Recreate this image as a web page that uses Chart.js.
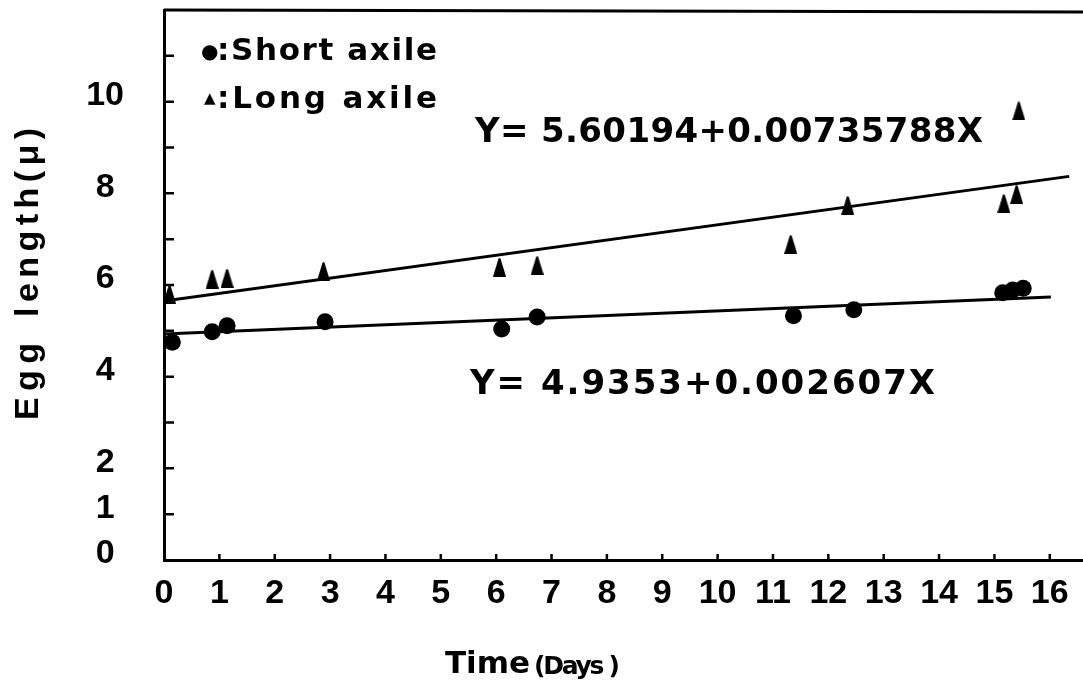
<!DOCTYPE html>
<html><head><meta charset="utf-8">
<script src="https://cdn.jsdelivr.net/npm/chart.js@4.4.1/dist/chart.umd.min.js"></script>
<style>html,body{margin:0;padding:0;background:#fff;} canvas{display:block;}</style>
</head><body>
<canvas id="c" width="1083" height="690"></canvas>
<script>
// ---- data ----
const shortX = [0.15, 0.87, 1.14, 2.91, 6.10, 6.74, 11.37, 12.46, 15.15, 15.33, 15.52];
const shortY = [4.75, 4.98, 5.11, 5.20, 5.04, 5.30, 5.33, 5.46, 5.83, 5.89, 5.93];
const longX  = [0.10, 0.87, 1.14, 2.88, 6.06, 6.74, 11.32, 12.35, 15.17, 15.40, 15.44];
const longY  = [5.80, 6.13, 6.15, 6.30, 6.39, 6.43, 6.89, 7.74, 7.78, 7.98, 9.80];
const upperLineX = [0, 16.35];
const upperLineY = [5.65, 8.37];
const lowerLineX = [0, 16.02];
const lowerLineY = [4.93, 5.74];
const yTickLabels = [0, 1, 2, 4, 6, 8, 10];
const yTickMarks = [1,2,3,4,5,6,7,8,9,10,11];
const xTickMarks = [1,2,3,4,5,6,7,8,9,10,11,12,13,14,15,16];
const legendShort = ':Short axile';
const legendLong = ':Long axile';
const eqUpper = 'Y= 5.60194+0.00735788X';
const eqLower = 'Y= 4.9353+0.002607X';
const xTitleA = 'Time', xTitleB = '(Days )';
const yTitleA = 'Egg', yTitleB = 'length(μ)';

const FONT = "'Liberation Sans', Arial, 'DejaVu Sans', sans-serif";
const WIDE = "'DejaVu Sans', 'Liberation Sans', sans-serif";
const zip = (xs, ys) => xs.map((x, i) => ({x, y: ys[i]}));

// triangle marker
const tri = document.createElement('canvas');
tri.width = 13; tri.height = 19;
(() => { const t = tri.getContext('2d'); t.fillStyle = '#000'; t.beginPath();
  t.moveTo(0, 19); t.lineTo(5.5, 1); t.quadraticCurveTo(6.5, -0.5, 7.5, 1); t.lineTo(13, 19); t.closePath(); t.fill(); })();

function spacedText(ctx, text, x, y, font, target, align) {
  ctx.save();
  ctx.font = font;
  ctx.textBaseline = 'middle';
  ctx.textAlign = 'left';
  ctx.fillStyle = '#000';
  const w = ctx.measureText(text).width;
  let L = 0;
  if (target && 'letterSpacing' in ctx) { L = (target - w) / Math.max(1, text.length - 1); ctx.letterSpacing = L + 'px'; }
  const total = w + L * (text.length - 1);
  const x0 = align === 'center' ? x - total / 2 : x;
  ctx.fillText(text, x0, y);
  ctx.restore();
}

const decor = {
  id: 'decor',
  afterDraw(chart) {
    const ctx = chart.ctx, xs = chart.scales.x, ys = chart.scales.y, a = chart.chartArea;
    ctx.save();
    ctx.strokeStyle = '#000'; ctx.lineWidth = 2.5; ctx.beginPath();
    yTickMarks.forEach(v => { const p = ys.getPixelForValue(v); ctx.moveTo(a.left, p); ctx.lineTo(a.left + 10, p); });
    xTickMarks.forEach(v => { const p = xs.getPixelForValue(v); ctx.moveTo(p, a.bottom); ctx.lineTo(p, a.bottom - 6); });
    ctx.stroke();
    ctx.lineWidth = 3; ctx.beginPath(); ctx.moveTo(a.left, a.top); ctx.lineTo(a.right, a.top + 2); ctx.stroke();
    ctx.restore();

    // legend
    ctx.save(); ctx.fillStyle = '#000'; ctx.textBaseline = 'middle'; ctx.textAlign = 'left';
    ctx.font = `bold 20px 'DejaVu Sans', sans-serif`; ctx.fillText('●', 201, 53);
    ctx.font = `bold 15px 'DejaVu Sans', sans-serif`; ctx.fillText('▲', 204, 99);
    ctx.restore();
    spacedText(ctx, legendShort, 217, 52, `bold 31px ${WIDE}`, 220, 'left');
    spacedText(ctx, legendLong, 217, 100, `bold 31px ${WIDE}`, 220, 'left');

    // equations
    spacedText(ctx, eqUpper, 475, 133, `bold 34px ${WIDE}`, 508, 'left');
    spacedText(ctx, eqLower, 470, 385, `bold 34px ${WIDE}`, 465, 'left');

    // axis titles
    spacedText(ctx, xTitleA, 445, 665, `bold 31px ${WIDE}`, 85, 'left');
    spacedText(ctx, xTitleB, 534, 667, `bold 25px ${WIDE}`, 86, 'left');
    ctx.save(); ctx.translate(29, 0); ctx.rotate(-Math.PI / 2);
    spacedText(ctx, yTitleA, -420, 0, `bold 34px ${FONT}`, 77, 'left');
    spacedText(ctx, yTitleB, -317, 0, `bold 34px ${FONT}`, 189, 'left');
    ctx.restore();
  }
};

new Chart(document.getElementById('c'), {
  type: 'scatter',
  data: {
    datasets: [
      { label: 'upper fit', type: 'line', data: zip(upperLineX, upperLineY), borderColor: '#000', borderWidth: 3, pointRadius: 0, fill: false },
      { label: 'lower fit', type: 'line', data: zip(lowerLineX, lowerLineY), borderColor: '#000', borderWidth: 3, pointRadius: 0, fill: false },
      { label: 'Short axile', data: zip(shortX, shortY), pointStyle: 'circle', pointRadius: 8.5, backgroundColor: '#000', borderColor: '#000', borderWidth: 0, clip: false },
      { label: 'Long axile', data: zip(longX, longY), pointStyle: tri, pointRadius: 9, backgroundColor: '#000', borderColor: '#000', clip: false }
    ]
  },
  options: {
    responsive: false,
    animation: false,
    devicePixelRatio: 1,
    layout: { autoPadding: false, padding: { top: 10, right: 0, left: 0, bottom: 0 } },
    plugins: { legend: { display: false }, tooltip: { enabled: false } },
    scales: {
      x: {
        type: 'linear', position: 'bottom', min: 0, max: 16.6,
        grid: { display: false },
        border: { display: true, color: '#000', width: 3 },
        ticks: {
          stepSize: 1, includeBounds: false, autoSkip: false, maxRotation: 0, minRotation: 0,
          color: '#000', font: { family: FONT, size: 34, weight: 'bold' }, padding: 5,
          labelOffset: c => (c.tick && c.tick.value === 0 ? 9 : 0),
          callback: v => String(v)
        },
        afterFit: s => { s.height = 130; s.paddingLeft = 0; s.paddingRight = 0; }
      },
      y: {
        type: 'linear', min: 0, max: 12,
        grid: { display: false },
        border: { display: true, color: '#000', width: 3 },
        ticks: {
          stepSize: 1, includeBounds: false, autoSkip: false,
          color: '#000', font: { family: FONT, size: 34, weight: 'bold' }, padding: 32, crossAlign: 'center',
          labelOffset: c => (c.tick && c.tick.value === 0 ? -11 : (c.tick && c.tick.value === 1 ? -8 : -6)),
          callback: v => (yTickLabels.includes(v) ? String(v) : '')
        },
        afterFit: s => { s.width = 164; s.paddingTop = 0; s.paddingBottom = 0; }
      }
    }
  },
  plugins: [decor]
});
</script>
</body></html>
